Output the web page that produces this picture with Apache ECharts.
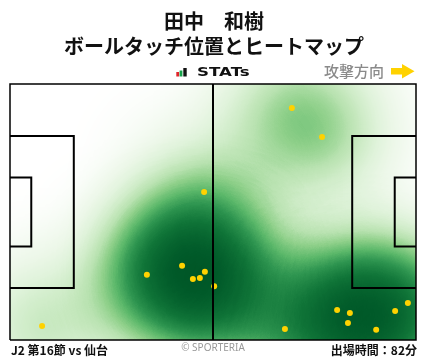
<!DOCTYPE html>
<html><head><meta charset="utf-8">
<script src="https://cdn.jsdelivr.net/npm/echarts@6/dist/echarts.min.js"></script>
<style>html,body{margin:0;padding:0;background:#fff}#c{width:428px;height:359px}</style>
</head><body><div id="c"></div>
<script>
// ---- data ----
const playerName = '田中　和樹';
const chartTitle = 'ボールタッチ位置とヒートマップ';
const matchLabel = 'J2 第16節 vs 仙台';
const minutesLabel = '出場時間：82分';
const directionLabel = '攻撃方向';
const creditLabel = '© SPORTERIA';
// touch positions in metres (x: own goal -> opponent goal, y: from bottom touchline)
const touchX = [72.9, 80.7, 50.2, 44.5, 35.4, 47.3, 49.1, 50.4, 52.8, 8.3, 71.1, 84.6, 87.9, 87.4, 99.6, 102.9, 94.7];
const touchY = [61.6, 53.9, 39.3, 19.7, 17.3, 16.2, 16.5, 18.1, 14.3, 3.7, 2.9, 8.0, 7.2, 4.5, 7.7, 9.8, 2.7];
const touchWeight = [1, 1, 1, 1, 1, 1, 1, 1, 1, 1, 1, 1, 1, 1, 1, 1, 1];
// pitch geometry (metres)
const pitchLength = 105, pitchWidth = 68;
const outline = [[0,0],[105,0],[105,68],[0,68],[0,0]];
const halfway = [[52.5,0],[52.5,68]];
const penaltyLeft = [[0,13.84],[16.5,13.84],[16.5,54.16],[0,54.16]];
const goalAreaLeft = [[0,24.84],[5.5,24.84],[5.5,43.16],[0,43.16]];
const penaltyRight = [[105,13.84],[88.5,13.84],[88.5,54.16],[105,54.16]];
const goalAreaRight = [[105,24.84],[99.5,24.84],[99.5,43.16],[105,43.16]];
const greens = ['#ffffff','#f5fbf3','#ecf7e8','#e0f3db','#cfecc8','#b8e2b0','#8fd08a','#5db96b','#2e9550','#107538','#005a29','#00441b'];

echarts.registerMap('pitch', {type:'FeatureCollection', features:[{type:'Feature', properties:{name:'pitch'},
  geometry:{type:'Polygon', coordinates:[[[0,0],[pitchLength,0],[pitchLength,pitchWidth],[0,pitchWidth],[0,0]]]}}]});

const chart = echarts.init(document.getElementById('c'));
const cjk = '"Noto Sans CJK JP", "Noto Sans", sans-serif';
const heatData = touchX.map((x,i)=>[x, touchY[i], touchWeight[i]]);
const touchData = touchX.map((x,i)=>[x, touchY[i]]);

chart.setOption({
  animation: false,
  backgroundColor: '#ffffff',
  geo: {
    map: 'pitch', left: 10, top: 84, width: 406, height: 256, roam: false, silent: true,
    label: {show: false},
    itemStyle: {areaColor: '#ffffff', borderWidth: 0},
    emphasis: {disabled: true}, select: {disabled: true}
  },
  visualMap: {type: 'continuous', show: false, min: 0, max: 1, seriesIndex: 0, inRange: {color: greens}},
  series: [
    {type: 'heatmap', coordinateSystem: 'geo', geoIndex: 0, data: heatData,
     pointSize: 45, blurSize: 95, minOpacity: 1, maxOpacity: 1, silent: true, z: 1},
    {type: 'scatter', coordinateSystem: 'geo', geoIndex: 0, data: touchData, symbolSize: 6,
     itemStyle: {color: '#FFD200', opacity: 1}, silent: true, z: 3},
    {type: 'lines', coordinateSystem: 'geo', geoIndex: 0, polyline: true, silent: true, z: 4,
     lineStyle: {color: '#000', width: 2, opacity: 1},
     data: [halfway, penaltyLeft, goalAreaLeft, penaltyRight, goalAreaRight].map(c=>({coords: c}))},
    {type: 'lines', coordinateSystem: 'geo', geoIndex: 0, polyline: true, silent: true, z: 4,
     lineStyle: {color: '#000', width: 1.5, opacity: 1},
     data: [{coords: outline}]}
  ],
  graphic: [
    {type:'text', x:214, y:21, style:{text: playerName, fontSize:20, fontWeight:'bold', fontFamily: cjk, fill:'#111', align:'center', verticalAlign:'middle', textAlign:'center', textVerticalAlign:'middle'}},
    {type:'text', x:214, y:46.5, style:{text: chartTitle, fontSize:20, fontWeight:'bold', fontFamily: cjk, fill:'#111', align:'center', verticalAlign:'middle', textAlign:'center', textVerticalAlign:'middle'}},
    {type:'rect', shape:{x:176.3, y:72, width:2.8, height:4.5}, style:{fill:'#e0242a'}},
    {type:'rect', shape:{x:179.6, y:70.5, width:2.8, height:6}, style:{fill:'#16a34a'}},
    {type:'rect', shape:{x:183.3, y:68, width:3.4, height:8.5}, style:{fill:'#111'}},
    {type:'text', x:197, y:72.5, scaleX:1.28, style:{text:'STATs', fontSize:13, fontWeight:'bold', fontFamily:'"DejaVu Sans", sans-serif', fill:'#111', align:'left', verticalAlign:'middle', textAlign:'left', textVerticalAlign:'middle'}},
    {type:'text', x:354, y:71, style:{text: directionLabel, fontSize:15, fontWeight:500, fontFamily: cjk, fill:'#8a8a8a', align:'center', verticalAlign:'middle', textAlign:'center', textVerticalAlign:'middle'}},
    {type:'polygon', shape:{points:[[391,68],[402,68],[402,64],[414.5,71.3],[402,78.6],[402,74.6],[391,74.6]]}, style:{fill:'#FFD200'}},
    {type:'text', x:11, y:350, style:{text: matchLabel, fontSize:12, fontWeight:'bold', fontFamily: cjk, fill:'#111', align:'left', verticalAlign:'middle', textAlign:'left', textVerticalAlign:'middle'}},
    {type:'text', x:213, y:348.5, style:{text: creditLabel, fontSize:10, fontFamily: '"Noto Sans", sans-serif', fill:'#999', align:'center', verticalAlign:'middle', textAlign:'center', textVerticalAlign:'middle'}},
    {type:'text', x:417, y:350, style:{text: minutesLabel, fontSize:12, fontWeight:'bold', fontFamily: cjk, fill:'#111', align:'right', verticalAlign:'middle', textAlign:'right', textVerticalAlign:'middle'}}
  ]
});
</script></body></html>
